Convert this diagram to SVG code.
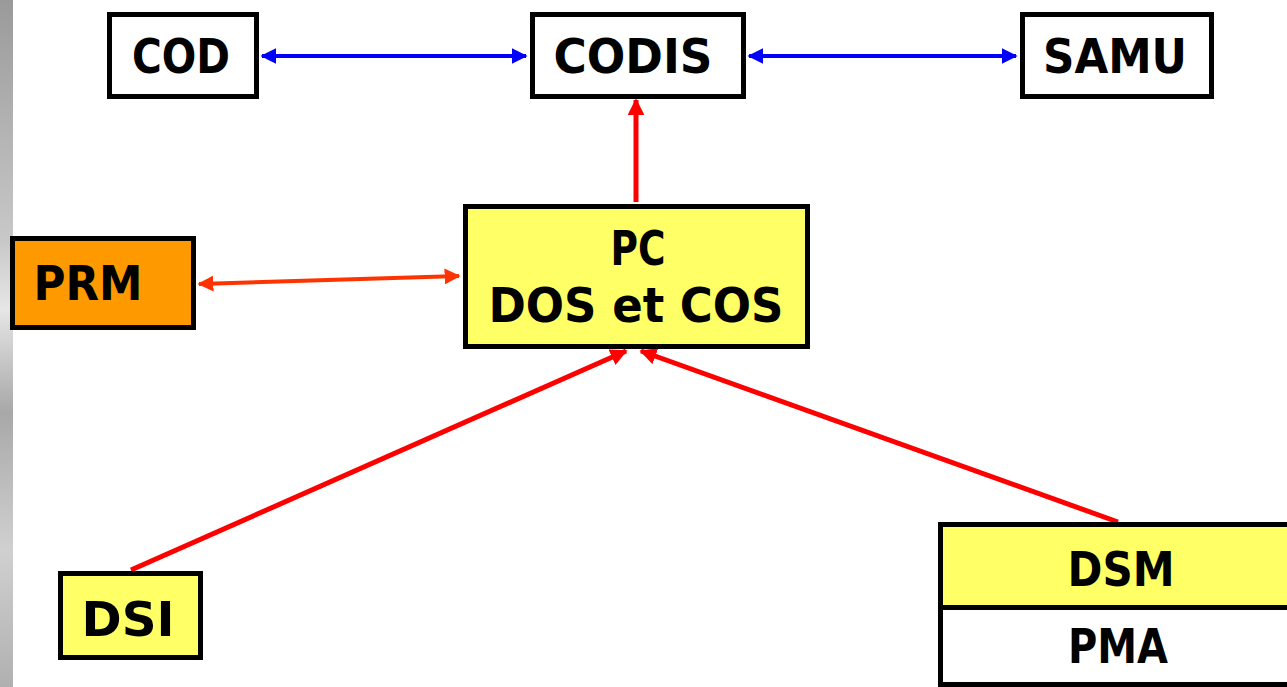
<svg xmlns="http://www.w3.org/2000/svg" width="1287" height="687" viewBox="0 0 1287 687">
  <style>
    .box { stroke: #000; stroke-width: 5; }
    .lbl { font-family: "DejaVu Sans", "Liberation Sans", sans-serif; font-weight: bold; font-size: 48px; fill: #000; text-anchor: middle; }
    .blue { stroke: #0000FF; stroke-width: 4; fill: none; }
    .red { stroke: #FF0000; stroke-width: 5; fill: none; }
    .orange { stroke: #FF3300; stroke-width: 4; fill: none; }
  </style>
  <defs>
    <linearGradient id="edge" x1="0" y1="0" x2="0" y2="1">
      <stop offset="0" stop-color="#9a9a9a"/>
      <stop offset="0.35" stop-color="#c8c8c8"/>
      <stop offset="0.45" stop-color="#e6e6e6"/>
      <stop offset="0.6" stop-color="#a8a8a8"/>
      <stop offset="0.8" stop-color="#d0d0d0"/>
      <stop offset="1" stop-color="#b0b0b0"/>
    </linearGradient>
    <marker id="hb" viewBox="0 0 10 10" refX="9" refY="5" markerWidth="4" markerHeight="4" orient="auto-start-reverse" markerUnits="strokeWidth">
      <path d="M0,0 L10,5 L0,10 z" fill="#0000FF"/>
    </marker>
    <marker id="hr" viewBox="0 0 10 10" refX="9" refY="5" markerWidth="3.4" markerHeight="3.4" orient="auto-start-reverse" markerUnits="strokeWidth">
      <path d="M0,0 L10,5 L0,10 z" fill="#FF0000"/>
    </marker>
    <marker id="ho" viewBox="0 0 10 10" refX="9" refY="5" markerWidth="4" markerHeight="4" orient="auto-start-reverse" markerUnits="strokeWidth">
      <path d="M0,0 L10,5 L0,10 z" fill="#FF3300"/>
    </marker>
  </defs>

  <rect width="1287" height="687" fill="#fff"/>
  <!-- textured grey edge on the left -->
  <rect x="0" y="0" width="13" height="687" fill="url(#edge)"/>

  <g id="connectors">
    <line class="blue" x1="262" y1="56" x2="526" y2="56" marker-start="url(#hb)" marker-end="url(#hb)"/>
    <line class="blue" x1="749" y1="56" x2="1016" y2="56" marker-start="url(#hb)" marker-end="url(#hb)"/>
    <line class="red" x1="636" y1="202" x2="636" y2="100" marker-end="url(#hr)"/>
    <line class="orange" x1="199" y1="284" x2="459" y2="276" marker-start="url(#ho)" marker-end="url(#ho)"/>
    <line class="red" x1="131" y1="570" x2="626" y2="351" marker-end="url(#hr)"/>
    <line class="red" x1="1118" y1="522" x2="641" y2="351" marker-end="url(#hr)"/>
  </g>

  <g id="cod">
    <rect class="box" x="109.5" y="14.5" width="147" height="82" fill="#fff"/>
    <text class="lbl" x="181" y="73" textLength="98" lengthAdjust="spacingAndGlyphs">COD</text>
  </g>
  <g id="codis">
    <rect class="box" x="532.5" y="14.5" width="211" height="82" fill="#fff"/>
    <text class="lbl" x="633" y="73" textLength="159" lengthAdjust="spacingAndGlyphs">CODIS</text>
  </g>
  <g id="samu">
    <rect class="box" x="1022.5" y="14.5" width="189" height="82" fill="#fff"/>
    <text class="lbl" x="1115" y="73" textLength="144" lengthAdjust="spacingAndGlyphs">SAMU</text>
  </g>
  <g id="pc">
    <rect class="box" x="465.5" y="206.5" width="342" height="140" fill="#FFFF66"/>
    <text class="lbl" x="638" y="265" textLength="55" lengthAdjust="spacingAndGlyphs">PC</text>
    <text class="lbl" x="636" y="322" textLength="295" lengthAdjust="spacingAndGlyphs">DOS et COS</text>
  </g>
  <g id="prm">
    <rect class="box" x="12.5" y="238.5" width="181" height="89" fill="#FF9900"/>
    <text class="lbl" x="88" y="300" textLength="109" lengthAdjust="spacingAndGlyphs">PRM</text>
  </g>
  <g id="dsi">
    <rect class="box" x="60.5" y="573.5" width="140" height="84" fill="#FFFF66"/>
    <text class="lbl" x="128" y="636" textLength="93" lengthAdjust="spacingAndGlyphs">DSI</text>
  </g>
  <g id="dsm">
    <rect class="box" x="940.5" y="524.5" width="352" height="83" fill="#FFFF66"/>
    <text class="lbl" x="1121" y="586" textLength="107" lengthAdjust="spacingAndGlyphs">DSM</text>
  </g>
  <g id="pma">
    <rect class="box" x="940.5" y="607.5" width="352" height="77" fill="#fff"/>
    <text class="lbl" x="1118" y="663" textLength="100" lengthAdjust="spacingAndGlyphs">PMA</text>
  </g>
</svg>
